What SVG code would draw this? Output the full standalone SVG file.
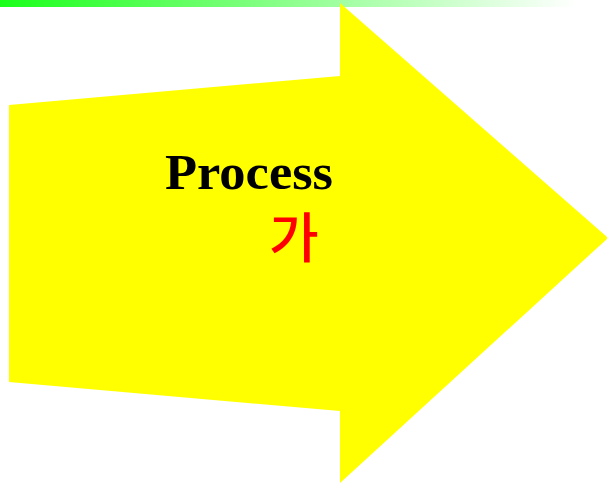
<svg xmlns="http://www.w3.org/2000/svg" width="607" height="483" viewBox="0 0 607 483">
<defs>
<linearGradient id="bar" x1="0" y1="0" x2="1" y2="0">
<stop offset="0" stop-color="#1aff1a"/>
<stop offset="0.95" stop-color="#ffffff"/>
</linearGradient>
<style>
.arrow{fill:#ffff00;stroke:none}
.t1{font-family:"Liberation Serif","Times New Roman",serif;font-weight:bold;font-size:51px;fill:#000}
.t2{font-family:"Noto Sans CJK KR",sans-serif;font-size:54px;font-weight:500;fill:#ff0000}
</style>
</defs>
<rect x="0" y="0" width="607" height="7" fill="url(#bar)"/>
<g id="arrow">
<polygon class="arrow" points="9,105 340,76 340,3 608,238 340,483 340,411 9,382"/>
<text class="t1" x="165" y="189" textLength="168" lengthAdjust="spacingAndGlyphs">Process</text>
<text class="t2" x="269" y="258">가</text>
</g>
</svg>
